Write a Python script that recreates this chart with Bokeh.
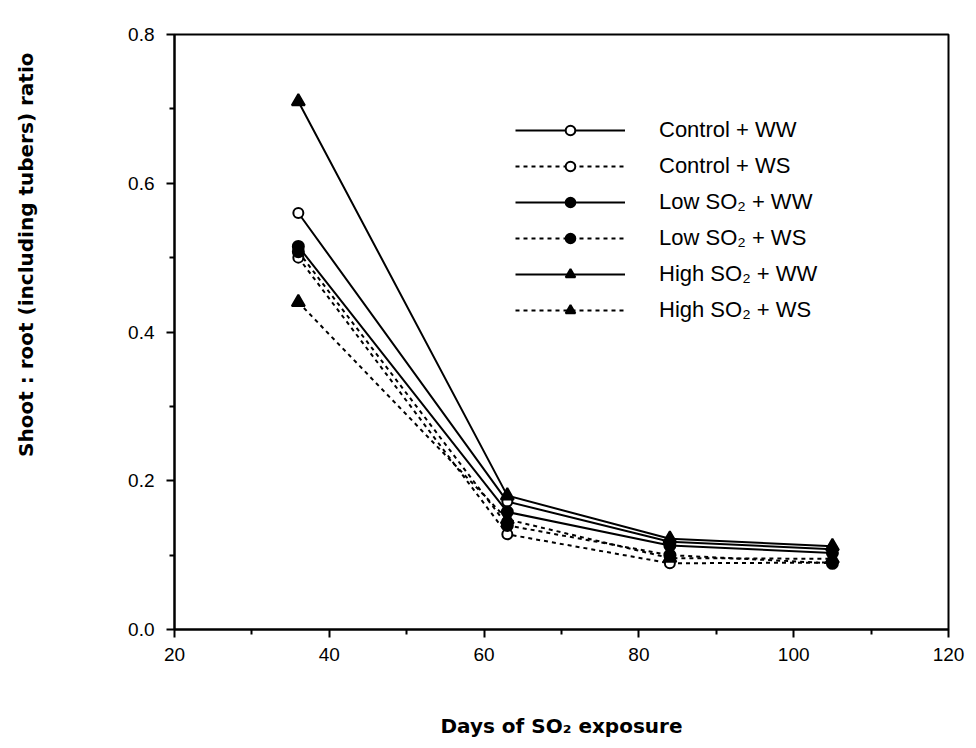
from bokeh.plotting import figure
from bokeh.models import Range1d, FixedTicker, Legend, LegendItem, Title, LinearAxis
from bokeh.embed import file_html
from bokeh.resources import INLINE

# ---- data ----
days = [36, 63, 84, 105]
control_ww = [0.560, 0.172, 0.118, 0.108]
control_ws = [0.500, 0.128, 0.089, 0.090]
low_ww = [0.515, 0.158, 0.113, 0.103]
low_ws = [0.508, 0.140, 0.100, 0.089]
high_ww = [0.710, 0.180, 0.122, 0.112]
high_ws = [0.440, 0.148, 0.096, 0.095]

series_names = ["Control + WW", "Control + WS", "Low SO₂ + WW",
                "Low SO₂ + WS", "High SO₂ + WW", "High SO₂ + WS"]

x_ticks = [20, 40, 60, 80, 100, 120]
x_minor_ticks = [30, 50, 70, 90, 110]
y_ticks = [0.0, 0.2, 0.4, 0.6, 0.8]
y_minor_ticks = [0.1, 0.3, 0.5, 0.7]
y_tick_labels = ["0.0", "0.2", "0.4", "0.6", "0.8"]

x_label = "Days of SO₂ exposure"
y_label = "Shoot : root (including tubers) ratio"

FONT = "Liberation Sans"
TITLE_FONT = "DejaVu Sans"

p = figure(width=976, height=748, output_backend="svg", toolbar_location=None,
           x_range=Range1d(20, 120), y_range=Range1d(0, 0.8),
           min_border_left=174, min_border_right=28, min_border_top=34,
           min_border_bottom=119)
p.grid.visible = False
p.outline_line_color = "black"
p.outline_line_width = 2
p.background_fill_color = "white"
p.border_fill_color = "white"

# axes
p.xaxis.ticker = FixedTicker(ticks=x_ticks, minor_ticks=x_minor_ticks)
p.yaxis.ticker = FixedTicker(ticks=y_ticks, minor_ticks=y_minor_ticks)
p.yaxis.major_label_overrides = {t: l for t, l in zip(y_ticks, y_tick_labels)}
for ax in (p.xaxis, p.yaxis):
    ax.axis_line_width = 2
    ax.axis_line_color = "black"
    ax.major_tick_line_width = 2
    ax.minor_tick_line_width = 2
    ax.major_tick_in = 0
    ax.minor_tick_in = 0
    ax.major_tick_out = 8
    ax.minor_tick_out = 5
    ax.major_label_text_font = FONT
    ax.major_label_text_font_size = "19px"
    ax.major_label_text_color = "black"
p.xaxis.major_label_standoff = 10
p.yaxis.major_label_standoff = 12

# x axis title
p.xaxis.axis_label = x_label
p.xaxis.axis_label_standoff = 50
p.xaxis.axis_label_text_font = TITLE_FONT
p.xaxis.axis_label_text_font_size = "20px"
p.xaxis.axis_label_text_font_style = "bold"
p.xaxis.axis_label_text_color = "black"

# invisible spacer axis (one white tick, blank label) to push the y title outward
spacer = LinearAxis(ticker=FixedTicker(ticks=[0.4], minor_ticks=[]),
                    major_label_overrides={0.4: ""},
                    axis_line_color="white", axis_line_width=1,
                    major_tick_line_color="white", minor_tick_line_color="white",
                    major_tick_out=83, minor_tick_out=0, major_tick_in=0,
                    minor_tick_in=0, major_label_standoff=0)
p.add_layout(spacer, "left")

yt = Title(text=y_label, align="right", offset=18, standoff=10,
           text_font=TITLE_FONT, text_font_size="20px", text_font_style="bold",
           text_color="black")
p.add_layout(yt, "left")

styles = [
    (control_ww, "solid", "circle", "white", 10),
    (control_ws, "4 4", "circle", "white", 10),
    (low_ww, "solid", "circle", "black", 11),
    (low_ws, "4 4", "circle", "black", 11),
    (high_ww, "solid", "triangle", "black", 13),
    (high_ws, "4 4", "triangle", "black", 13),
]

items = []
for name, (vals, dash, marker, fill, size) in zip(series_names, styles):
    lr = p.line(days, vals, line_color="black", line_width=2, line_dash=dash)
    sr = p.scatter(days, vals, marker=marker, size=size, fill_color=fill,
                   line_color="black", line_width=2)
    items.append(LegendItem(label=name, renderers=[lr, sr]))

legend = Legend(items=items, location=(341, 306))
legend.glyph_width = 110
legend.glyph_height = 24
legend.label_height = 24
legend.spacing = 10
legend.padding = 0
legend.margin = 0
legend.label_standoff = 34
legend.label_text_font = FONT
legend.label_text_font_size = "22px"
legend.label_text_color = "black"
legend.border_line_alpha = 0
legend.background_fill_alpha = 0
p.add_layout(legend, "center")

open("out.html", "w").write(file_html(p, INLINE))
